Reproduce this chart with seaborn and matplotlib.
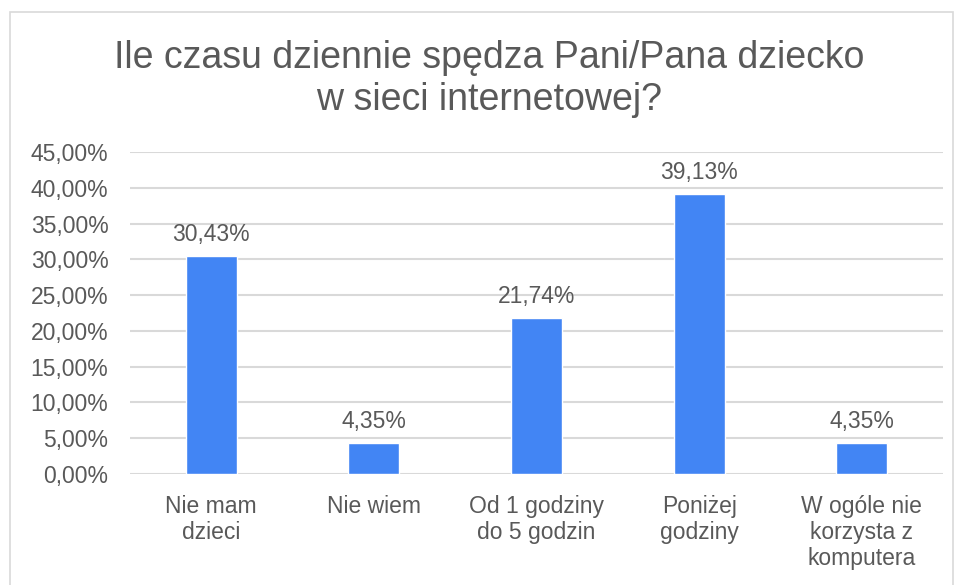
import pandas as pd
import seaborn as sns
import matplotlib.pyplot as plt
from matplotlib.patches import Rectangle
from matplotlib.ticker import FuncFormatter, MultipleLocator

categories = ["Nie mam\ndzieci", "Nie wiem", "Od 1 godziny\ndo 5 godzin", "Poniżej\ngodziny",
              "W ogóle nie\nkorzysta z\nkomputera"]
shares = [0.3043, 0.0435, 0.2174, 0.3913, 0.0435]
title_lines = ["Ile czasu dziennie spędza Pani/Pana dziecko", "w sieci internetowej?"]

BAR_COLOR = "#4285F4"
TEXT_COLOR = "#595959"
GRID_COLOR = "#d9d9d9"

sns.set_theme(style="white")
plt.rcParams['font.family'] = ['Liberation Sans', 'DejaVu Sans']

df = pd.DataFrame({"kategoria": categories, "udzial": shares})

fig = plt.figure(figsize=(9.57, 5.85), dpi=100)
ax = fig.add_axes([130 / 957, 1 - 474 / 585, (943 - 130) / 957, (474 - 152) / 585])

sns.barplot(data=df, x="kategoria", y="udzial", color=BAR_COLOR, width=0.314,
            saturation=1, ax=ax, zorder=3)

ax.set_ylim(0, 0.45)
ax.yaxis.set_major_locator(MultipleLocator(0.05))
ax.yaxis.set_major_formatter(FuncFormatter(lambda v, p: f"{v * 100:.2f}%".replace(".", ",")))
ax.grid(axis="y", color=GRID_COLOR, linewidth=1.5, zorder=0)
ax.set_axisbelow(True)
for s in ax.spines.values():
    s.set_visible(False)
ax.set_xlabel("")
ax.set_ylabel("")
ax.tick_params(axis="y", length=0, pad=15.5, labelsize=16.5, labelcolor=TEXT_COLOR)
ax.tick_params(axis="x", length=0, pad=15, labelsize=16.5, labelcolor=TEXT_COLOR)
for lbl in ax.get_xticklabels():
    lbl.set_linespacing(1.18)

# data labels
for i, v in enumerate(shares):
    ax.annotate(f"{v * 100:.2f}%".replace(".", ","), (i, v), xytext=(0, 11),
                textcoords="offset points", ha="center", va="baseline",
                fontsize=16.5, color=TEXT_COLOR)

# title
fig.text(489.5 / 957, 1 - 68 / 585, title_lines[0], ha="center", va="baseline",
         fontsize=27, color=TEXT_COLOR)
fig.text(489.5 / 957, 1 - 110 / 585, title_lines[1], ha="center", va="baseline",
         fontsize=27, color=TEXT_COLOR)

# chart frame
fig.patches.append(Rectangle((10 / 957, -0.05), (953 - 10) / 957, 1.05 - 12 / 585,
                             transform=fig.transFigure, fill=False,
                             edgecolor=GRID_COLOR, linewidth=1.2))

plt.savefig("out.png", dpi=100)
